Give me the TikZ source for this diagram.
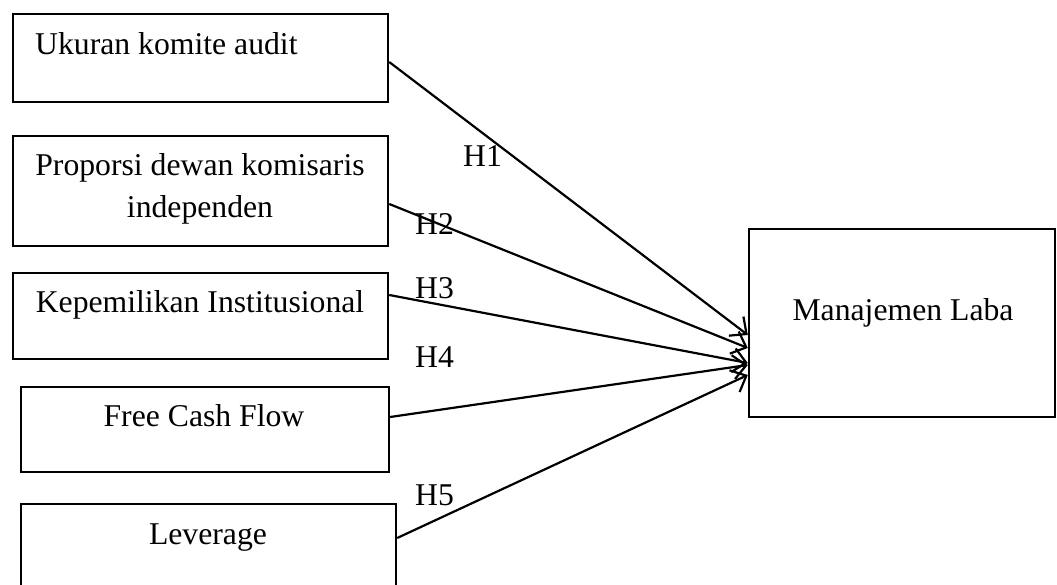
\documentclass[tikz,border=0pt]{standalone}
\usepackage{fontspec}
\setmainfont{Liberation Serif}
\usetikzlibrary{arrows.meta}
\begin{document}
\begin{tikzpicture}[x=1pt,y=1pt,
  box/.style={draw, line width=2.4pt, inner sep=0pt, minimum width=#1},
  lbl/.style={inner sep=0pt, font=\fontsize{31.7}{42}\selectfont},
  link/.style={line width=2.2pt, -{Straight Barb[length=13pt,width=24pt,line width=2.2pt]}}]
\clip (0,0) rectangle (1057,585);
\fill[white] (0,0) rectangle (1057,585);
% boxes
\node[box=375pt, minimum height=88pt]  (b1) at (200.5,527) {};
\node[box=375pt, minimum height=110pt] (b2) at (200.5,394) {};
\node[box=375pt, minimum height=86pt]  (b3) at (200.5,269) {};
\node[box=368pt, minimum height=85pt]  (b4) at (205,155.5) {};
\node[box=375pt, minimum height=101pt] (b5) at (208.5,30.5) {};
\node[box=306pt, minimum height=188pt] (t)  at (902,262) {};
% texts
\node[lbl, anchor=base west] (t1) at (35,530) {Ukuran komite audit};
\node[lbl, anchor=base] (t2a) at (200,409) {Proporsi dewan komisaris};
\node[lbl, anchor=base] (t2b) at (200,367) {independen};
\node[lbl, anchor=base] (t3) at (200,272) {Kepemilikan Institusional};
\node[lbl, anchor=base] (t4) at (204,158) {Free Cash Flow};
\node[lbl, anchor=base] (t5) at (208,40) {Leverage};
\node[lbl, anchor=base] (tt) at (903,264) {Manajemen Laba};
% hypothesis labels
\node[lbl, anchor=base west] (h1) at (463,418) {H1};
\node[lbl, anchor=base west] (h2) at (415,350) {H2};
\node[lbl, anchor=base west] (h3) at (415,286) {H3};
\node[lbl, anchor=base west] (h4) at (415,217) {H4};
\node[lbl, anchor=base west] (h5) at (415,79) {H5};
% arrows
\draw[link] ([yshift=-4pt]b1.east) -- ([yshift=-12pt]t.west);
\draw[link] ([yshift=-13pt]b2.east) -- ([yshift=-25pt]t.west);
\draw[link] ([yshift=21pt]b3.east) -- ([yshift=-40pt]t.west);
\draw[link] ([yshift=12.5pt]b4.east) -- ([yshift=-42pt]t.west);
\draw[link] ([yshift=16.5pt]b5.east) -- ([yshift=-52pt]t.west);
\end{tikzpicture}
\end{document}
